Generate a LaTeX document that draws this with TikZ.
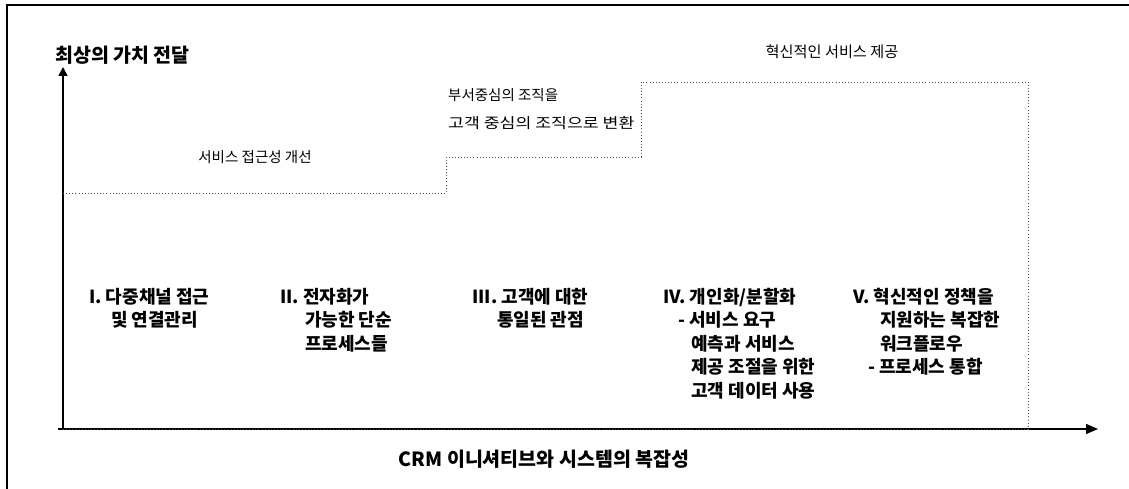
\documentclass[tikz,border=0pt]{standalone}
\usepackage{fontspec}
\setmainfont{Noto Sans CJK KR}
\usetikzlibrary{arrows.meta}
\begin{document}
\begin{tikzpicture}[x=1pt,y=-1pt,
  yaxis/.style={line width=1.4pt,-{Triangle[length=9pt,width=9pt]}},
  xaxis/.style={line width=1.4pt,-{Triangle[length=12pt,width=10pt]}},
  dotline/.style={line width=0.9pt,dash pattern=on 0.9pt off 2.2pt,black!70},
  lbl/.style={anchor=base west,inner sep=0pt,font=\fontsize{18}{23.5}\selectfont\bfseries},
  toplbl/.style={inner sep=0pt,font=\fontsize{14.5}{20}\selectfont},
  ttl/.style={inner sep=0pt,font=\fontsize{19.5}{24}\selectfont\bfseries}]
\useasboundingbox (0,0) rectangle (1129,489);
\draw[line width=1.4pt] (7,489) -- (7,5) -- (1129,5);
% axes
\coordinate (o) at (63,429);
\coordinate (ytip) at (63,67);
\coordinate (xs) at (58,429);
\coordinate (xtip) at (1098,429);
\draw[yaxis] (o) -- (ytip);
\draw[xaxis] (xs) -- (xtip);
\node[ttl,anchor=west] (ytitle) at (55,55) {최상의 가치 전달};
\node[ttl] (xtitle) at (544,459) {CRM 이니셔티브와 시스템의 복잡성};
% staircase
\coordinate (s0) at (63,193);
\coordinate (s1) at (446,193);
\coordinate (s2) at (446,157);
\coordinate (s3) at (641,157);
\coordinate (s4) at (641,82);
\coordinate (s5) at (1028,82);
\coordinate (s6) at (1028,429);
\draw[dotline] (s0) -- (s1) -- (s2) -- (s3) -- (s4) -- (s5) -- (s6) -- (o);
% step labels
\node[toplbl] (st1) at (255,157) {서비스 접근성 개선};
\node[toplbl,anchor=west] (st2) at (448,95) {부서중심의 조직을};
\node[toplbl,anchor=west] (st3) at (448,123) {\scalebox{1.19}[1]{고객 중심의 조직으로 변환}};
\node[toplbl,font=\fontsize{15.2}{20}\selectfont] (st4) at (832,52) {혁신적인 서비스 제공};
% stage labels
\node[lbl] (l1) at (89,303) {\begin{tabular}[t]{@{}l@{}}I. 다중채널 접근\\ \hspace*{22pt}및 연결관리\end{tabular}};
\node[lbl] (l2) at (280,303) {\begin{tabular}[t]{@{}l@{}}II. 전자화가\\ \hspace*{25pt}가능한 단순\\ \hspace*{25pt}프로세스들\end{tabular}};
\node[lbl] (l3) at (472,303) {\begin{tabular}[t]{@{}l@{}}III. 고객에 대한\\ \hspace*{25pt}통일된 관점\end{tabular}};
\node[lbl] (l4) at (663,303) {\begin{tabular}[t]{@{}l@{}}IV. 개인화/분할화\\ \hspace*{15pt}- 서비스 요구\\ \hspace*{28pt}예측과 서비스\\ \hspace*{28pt}제공 조절을 위한\\ \hspace*{28pt}고객 데이터 사용\end{tabular}};
\node[lbl] (l5) at (853,303) {\begin{tabular}[t]{@{}l@{}}V. 혁신적인 정책을\\ \hspace*{27pt}지원하는 복잡한\\ \hspace*{27pt}워크플로우\\ \hspace*{15pt}- 프로세스 통합\end{tabular}};
\end{tikzpicture}
\end{document}
